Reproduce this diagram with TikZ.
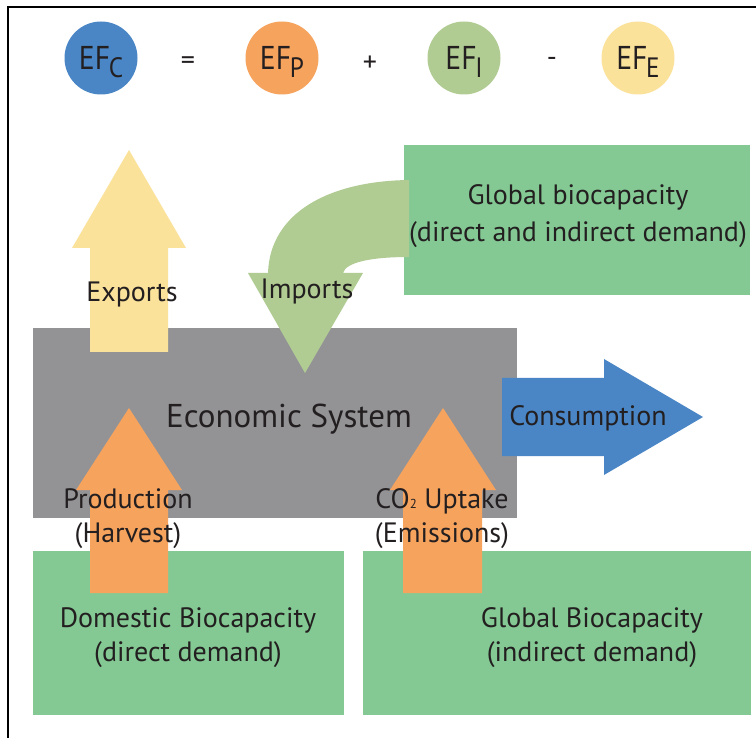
\documentclass[tikz,border=0pt]{standalone}
\usepackage{fontspec}
\setmainfont{PT Sans}
\usetikzlibrary{shapes.geometric}
\definecolor{txt}{HTML}{231F20}
\definecolor{efblue}{HTML}{4A86C6}
\definecolor{eforange}{HTML}{F6A35E}
\definecolor{eflgreen}{HTML}{B0CC93}
\definecolor{efyellow}{HTML}{FBE29B}
\definecolor{boxgreen}{HTML}{84C994}
\definecolor{ecogray}{HTML}{939396}
\newcommand{\eflabel}[1]{\scalebox{0.9}[1]{EF\kern-1.5pt\raisebox{-8pt}{\fontsize{28}{28}\selectfont #1}}}
\begin{document}
\begin{tikzpicture}[x=1pt,y=-1pt,
  every node/.style={text=txt},
  ef/.style={circle, minimum size=73pt, inner sep=0pt},
  eft/.style={anchor=base, inner sep=0pt, font=\fontsize{33}{35}\selectfont},
  op/.style={font=\fontsize{28}{30}\selectfont},
  lbl/.style={font=\fontsize{28}{34}\selectfont, align=center, inner sep=0pt},
  blk/.style={rectangle, anchor=north west, inner sep=0pt}]
\useasboundingbox (0,0) rectangle (756,738);
\fill[white] (0,0) rectangle (756,738);
\draw[line width=2pt] (8,738) -- (8,7) -- (756,7);

% equation
\node[ef, fill=efblue] (efc) at (101,58) {};
\node[eft] (efct) at (101,70) {\eflabel{C}};
\node[op] (eq) at (188,63) {=};
\node[ef, fill=eforange] (efp) at (282,58) {};
\node[eft] (efpt) at (282,70) {\eflabel{P}};
\node[op] (plus) at (370,64) {+};
\node[ef, fill=eflgreen] (efi) at (464,58) {};
\node[eft] (efit) at (464,70) {\eflabel{I}};
\node[op] (minus) at (552,62) {-};
\node[ef, fill=efyellow] (efe) at (638,58) {};
\node[eft] (efet) at (638,70) {\eflabel{E}};

% boxes
\node[blk, fill=ecogray, minimum width=484pt, minimum height=190pt] (eco) at (33,328) {};
\node[blk, fill=boxgreen, minimum width=346pt, minimum height=150pt] (globtop) at (404,145) {};
\node[blk, fill=boxgreen, minimum width=311pt, minimum height=164pt] (dom) at (33,551) {};
\node[blk, fill=boxgreen, minimum width=388pt, minimum height=164pt] (globbot) at (363,551) {};

% exports arrow
\fill[efyellow] (90,352) -- (90,248) -- (72,248) -- (129,150) -- (186,248) -- (168,248) -- (168,352) -- cycle;

% imports arrow
\fill[eflgreen] (409,180) .. controls (330,181) and (270,212) .. (268,273)
  -- (248,273) -- (305,373) -- (363,273) -- (343,273)
  .. controls (346,262) and (372,257) .. (409,257) -- cycle;

% production arrows
\fill[eforange] (90,593) -- (90,490) -- (76,490) -- (129,408) -- (182,490) -- (168,490) -- (168,593) -- cycle;
\fill[eforange] (403,593) -- (403,490) -- (390,490) -- (443,408) -- (496,490) -- (482,490) -- (482,593) -- cycle;

% consumption arrow
\fill[efblue] (502,378) -- (604,378) -- (604,359) -- (703,417) -- (604,475) -- (604,456) -- (502,456) -- cycle;

% labels
\node[lbl] (exp) at (132,295) {Exports};
\node[lbl] (imp) at (307,292) {Imports};
\node[lbl, font=\fontsize{33}{35}\selectfont] (ecot) at (289,419) {Economic System};
\node[lbl] (cons) at (588,418) {Consumption};
\node[lbl] (prod) at (128,519) {Production\\(Harvest)};
\node[lbl] (co2) at (442,519) {CO\raisebox{0pt}{\fontsize{13}{13}\selectfont 2} Uptake\\(Emissions)};
\node[lbl, font=\fontsize{28}{37}\selectfont] (gtt) at (578,216) {Global biocapacity\\(direct and indirect demand)};
\node[lbl] (domt) at (188,638) {Domestic Biocapacity\\(direct demand)};
\node[lbl] (gbt) at (592,638) {Global Biocapacity\\(indirect demand)};
\end{tikzpicture}
\end{document}
